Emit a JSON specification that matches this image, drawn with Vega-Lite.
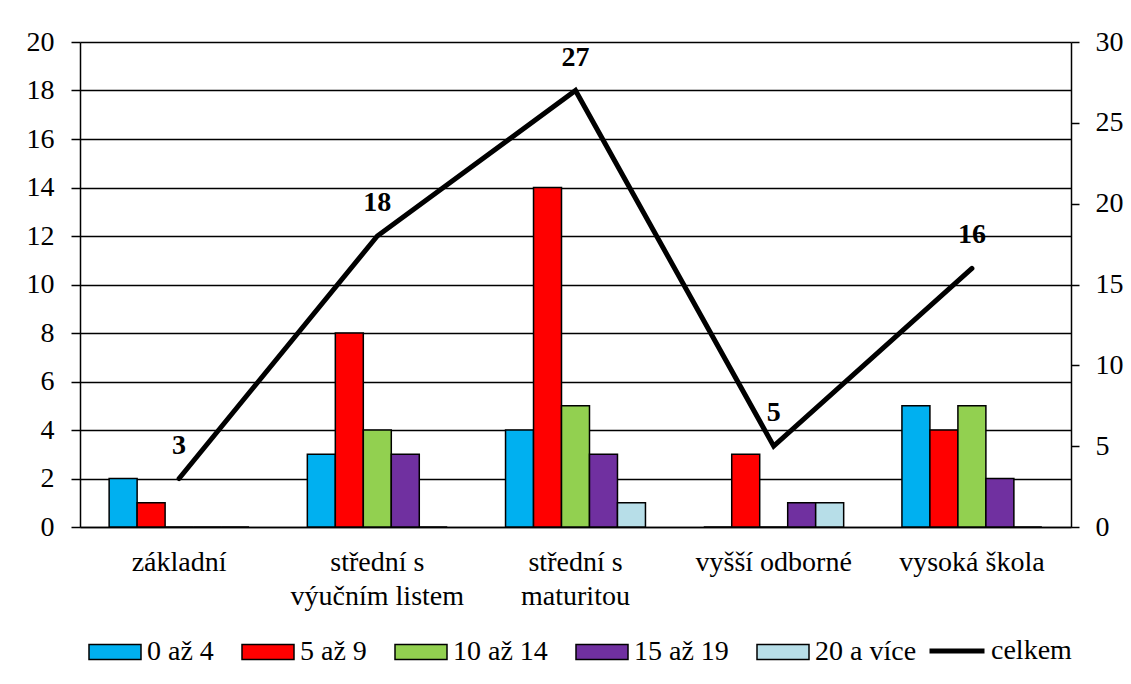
{
  "$schema": "https://vega.github.io/schema/vega-lite/v6.json",
  "width": 991,
  "height": 485,
  "autosize": {"type": "none"},
  "padding": {"left": 80, "top": 42, "right": 60, "bottom": 157},
  "background": "white",
  "config": {
    "font": "Liberation Serif",
    "view": {"stroke": null},
    "axis": {"labelFont": "Liberation Serif", "labelFontSize": 28, "labelColor": "black", "domainColor": "black", "tickColor": "black", "domainWidth": 1.5, "tickWidth": 1.5},
    "axisQuantitative": {"labelFont": "Liberation Serif", "labelFontSize": 28},
    "legend": {"labelFont": "Liberation Serif", "labelFontSize": 28, "labelColor": "black", "padding": 0}
  },
  "datasets": {
    "bars": [
      {"kategorie": "základní", "skupina": "0 až 4", "pocet": 2},
      {"kategorie": "základní", "skupina": "5 až 9", "pocet": 1},
      {"kategorie": "základní", "skupina": "10 až 14", "pocet": 0},
      {"kategorie": "základní", "skupina": "15 až 19", "pocet": 0},
      {"kategorie": "základní", "skupina": "20 a více", "pocet": 0},
      {"kategorie": "střední s výučním listem", "skupina": "0 až 4", "pocet": 3},
      {"kategorie": "střední s výučním listem", "skupina": "5 až 9", "pocet": 8},
      {"kategorie": "střední s výučním listem", "skupina": "10 až 14", "pocet": 4},
      {"kategorie": "střední s výučním listem", "skupina": "15 až 19", "pocet": 3},
      {"kategorie": "střední s výučním listem", "skupina": "20 a více", "pocet": 0},
      {"kategorie": "střední s maturitou", "skupina": "0 až 4", "pocet": 4},
      {"kategorie": "střední s maturitou", "skupina": "5 až 9", "pocet": 14},
      {"kategorie": "střední s maturitou", "skupina": "10 až 14", "pocet": 5},
      {"kategorie": "střední s maturitou", "skupina": "15 až 19", "pocet": 3},
      {"kategorie": "střední s maturitou", "skupina": "20 a více", "pocet": 1},
      {"kategorie": "vyšší odborné", "skupina": "0 až 4", "pocet": 0},
      {"kategorie": "vyšší odborné", "skupina": "5 až 9", "pocet": 3},
      {"kategorie": "vyšší odborné", "skupina": "10 až 14", "pocet": 0},
      {"kategorie": "vyšší odborné", "skupina": "15 až 19", "pocet": 1},
      {"kategorie": "vyšší odborné", "skupina": "20 a více", "pocet": 1},
      {"kategorie": "vysoká škola", "skupina": "0 až 4", "pocet": 5},
      {"kategorie": "vysoká škola", "skupina": "5 až 9", "pocet": 4},
      {"kategorie": "vysoká škola", "skupina": "10 až 14", "pocet": 5},
      {"kategorie": "vysoká škola", "skupina": "15 až 19", "pocet": 2},
      {"kategorie": "vysoká škola", "skupina": "20 a více", "pocet": 0}
    ],
    "celkem": [
      {"kategorie": "základní", "celkem": 3},
      {"kategorie": "střední s výučním listem", "celkem": 18},
      {"kategorie": "střední s maturitou", "celkem": 27},
      {"kategorie": "vyšší odborné", "celkem": 5},
      {"kategorie": "vysoká škola", "celkem": 16}
    ]
  },
  "layer": [
    {
      "data": {"name": "bars"},
      "mark": {"type": "bar", "stroke": "black", "strokeWidth": 1.5},
      "encoding": {
        "x": {
          "field": "kategorie", "type": "nominal",
          "sort": ["základní", "střední s výučním listem", "střední s maturitou", "vyšší odborné", "vysoká škola"],
          "scale": {"paddingInner": 0.294, "paddingOuter": 0.147},
          "axis": {
            "title": null, "labelAngle": 0, "ticks": false, "tickSize": 0, "labelPadding": 21, "labelBaseline": "top",
            "labelLineHeight": 34, "labelFont": "Liberation Serif", "labelFontSize": 28,
            "labelExpr": "datum.value == 'střední s výučním listem' ? ['střední s', 'výučním listem'] : datum.value == 'střední s maturitou' ? ['střední s', 'maturitou'] : datum.value"
          }
        },
        "xOffset": {
          "field": "skupina", "type": "nominal",
          "scale": {"domain": ["0 až 4", "5 až 9", "10 až 14", "15 až 19", "20 a více"], "paddingInner": 0, "paddingOuter": 0}
        },
        "y": {
          "field": "pocet", "type": "quantitative",
          "scale": {"domain": [0, 20], "nice": false},
          "axis": {"title": null, "orient": "left", "values": [0, 2, 4, 6, 8, 10, 12, 14, 16, 18, 20], "grid": true, "gridColor": "black", "gridWidth": 1.5, "gridOpacity": 1, "tickSize": 9, "labelPadding": 17, "labelFont": "Liberation Serif", "labelFontSize": 28}
        },
        "color": {
          "field": "skupina", "type": "nominal",
          "scale": {"domain": ["0 až 4", "5 až 9", "10 až 14", "15 až 19", "20 a více"], "range": ["#00B0F0", "#FF0000", "#92D050", "#7030A0", "#B7DEE8"]},
          "legend": {
            "title": null, "orient": "none", "legendX": 8, "legendY": 583, "direction": "horizontal",
            "symbolType": "M-1,-0.29H1V0.29H-1Z", "symbolSize": 2704, "symbolStrokeColor": "black", "symbolStrokeWidth": 1.5, "symbolOpacity": 1,
            "labelOffset": 5, "columnPadding": 25, "labelFont": "Liberation Serif", "labelFontSize": 28
          }
        }
      }
    },
    {
      "data": {"name": "celkem"},
      "encoding": {
        "x": {"field": "kategorie", "type": "nominal", "bandPosition": 0.5, "sort": ["základní", "střední s výučním listem", "střední s maturitou", "vyšší odborné", "vysoká škola"]},
        "y": {
          "field": "celkem", "type": "quantitative",
          "scale": {"domain": [0, 30], "nice": false},
          "axis": {"title": null, "orient": "right", "values": [0, 5, 10, 15, 20, 25, 30], "grid": false, "tickSize": 8, "labelPadding": 16, "labelFont": "Liberation Serif", "labelFontSize": 28}
        }
      },
      "layer": [
        {
          "mark": {"type": "line", "strokeWidth": 5, "strokeCap": "round", "strokeJoin": "miter"},
          "encoding": {
            "color": {
              "datum": "celkem",
              "scale": {"domain": ["celkem"], "range": ["black"]},
              "legend": {"title": null, "orient": "none", "legendX": 847, "legendY": 579, "symbolType": "stroke", "symbolSize": 3025, "symbolStrokeWidth": 5, "labelOffset": 4, "labelFont": "Liberation Serif", "labelFontSize": 28}
            }
          }
        },
        {
          "mark": {"type": "text", "fontSize": 28, "fontWeight": "bold", "font": "Liberation Serif", "dy": -33, "baseline": "middle", "color": "black"},
          "encoding": {"text": {"field": "celkem", "type": "quantitative"}}
        }
      ]
    }
  ],
  "resolve": {"scale": {"y": "independent", "color": "independent"}, "legend": {"color": "independent"}}
}
